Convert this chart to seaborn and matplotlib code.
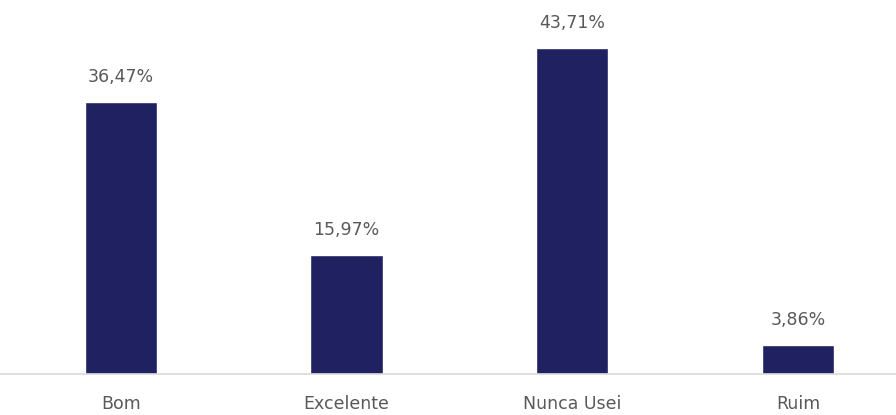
import matplotlib
matplotlib.use("Agg")
import matplotlib.pyplot as plt
import seaborn as sns
import pandas as pd

categorias = ["Bom", "Excelente", "Nunca Usei", "Ruim"]
percentuais = [36.47, 15.97, 43.71, 3.86]

df = pd.DataFrame({"categoria": categorias, "percentual": percentuais})

sns.set_style("white")
plt.rcParams['font.family'] = ['DejaVu Sans']

fig = plt.figure(figsize=(8.96, 4.15), dpi=100)
ax = fig.add_axes([0, 41 / 415, 1, 374 / 415])

sns.barplot(x="categoria", y="percentual", data=df, color="#1F2160",
            width=0.32, saturation=1, ax=ax)

for i, v in enumerate(percentuais):
    ax.annotate(f"{v:.2f}%".replace(".", ","), (i, v), xytext=(0, 25),
                textcoords="offset pixels", ha="center", va="center",
                fontsize=12.5, color="#595959")

ax.set_xlim(-0.535, 3.434)
ax.set_ylim(0, 50.2)
ax.set_xlabel("")
ax.set_ylabel("")
ax.set_yticks([])
for s in ["top", "right", "left"]:
    ax.spines[s].set_visible(False)
ax.spines["bottom"].set_color("#D9D9D9")
ax.spines["bottom"].set_linewidth(1.2)
ax.tick_params(axis="x", length=0, pad=15, labelsize=12.5, labelcolor="#595959")

fig.savefig("out.png", dpi=100)
